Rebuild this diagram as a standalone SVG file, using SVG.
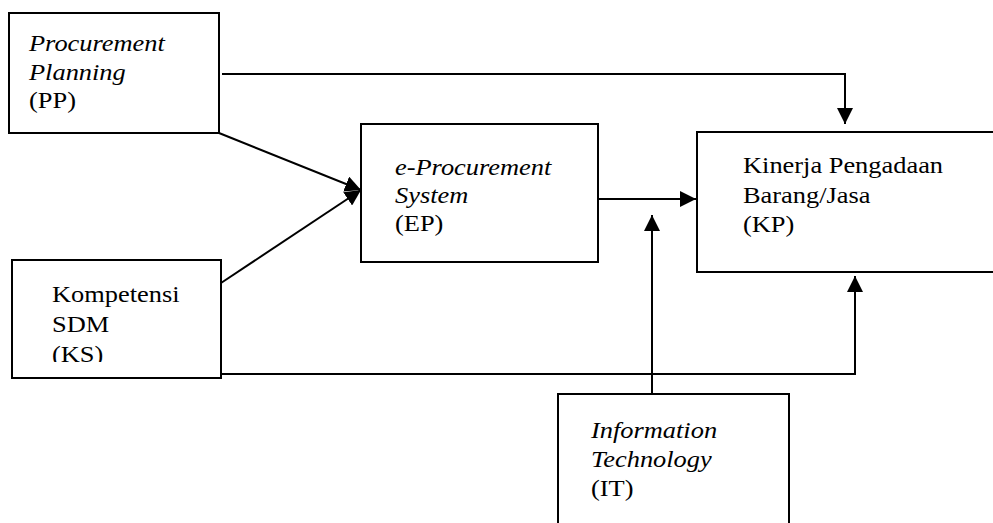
<svg xmlns="http://www.w3.org/2000/svg" width="993" height="523" viewBox="0 0 993 523">
<defs>
<style>
.box{fill:#fff;stroke:#000;stroke-width:2}
.c{fill:none;stroke:#000;stroke-width:2}
</style>
<marker id="ah" viewBox="0 0 16 16" refX="16" refY="8" markerWidth="16" markerHeight="16" markerUnits="userSpaceOnUse" orient="auto">
<path d="M0,0 L16,8 L0,16 z" fill="#000"/>
</marker>
<clipPath id="ksclip"><rect x="12" y="260" width="209" height="102"/></clipPath>
</defs>
<rect width="993" height="523" fill="#fff"/>
<g id="connectors">
<polyline class="c" points="222,74 845,74 845,124" marker-end="url(#ah)"/>
<line class="c" x1="219" y1="133" x2="361" y2="190" marker-end="url(#ah)"/>
<line class="c" x1="221" y1="283" x2="361" y2="190" marker-end="url(#ah)"/>
<line class="c" x1="598" y1="199" x2="696" y2="199" marker-end="url(#ah)"/>
<line class="c" x1="652" y1="394" x2="652" y2="215" marker-end="url(#ah)"/>
<polyline class="c" points="221,374 855,374 855,276" marker-end="url(#ah)"/>
</g>
<g font-family="Liberation Serif, Times New Roman, serif" font-size="24" fill="#000">
<g id="PP">
<rect class="box" x="9" y="13" width="210" height="120"/>
<text transform="translate(29,51) scale(1.1,1)" font-style="italic">Procurement</text>
<text transform="translate(29,80) scale(1.1,1)" font-style="italic">Planning</text>
<text transform="translate(29,108) scale(1.1,1)">(PP)</text>
</g>
<g id="KS">
<rect class="box" x="12" y="260" width="209" height="118"/>
<g clip-path="url(#ksclip)">
<text transform="translate(52,302) scale(1.1,1)">Kompetensi</text>
<text transform="translate(52,332) scale(1.1,1)">SDM</text>
<text transform="translate(52,362) scale(1.1,1)">(KS)</text>
</g>
</g>
<g id="EP">
<rect class="box" x="361" y="124" width="237" height="138"/>
<text transform="translate(395,175) scale(1.1,1)" font-style="italic">e-Procurement</text>
<text transform="translate(395,203) scale(1.1,1)" font-style="italic">System</text>
<text transform="translate(395,231) scale(1.1,1)">(EP)</text>
</g>
<g id="KP">
<rect class="box" x="697" y="132" width="300" height="140"/>
<text transform="translate(743,173) scale(1.1,1)">Kinerja Pengadaan</text>
<text transform="translate(743,203) scale(1.1,1)">Barang/Jasa</text>
<text transform="translate(743,232) scale(1.1,1)">(KP)</text>
</g>
<g id="IT">
<rect class="box" x="558" y="394" width="231" height="135"/>
<text transform="translate(591,438) scale(1.1,1)" font-style="italic">Information</text>
<text transform="translate(591,467) scale(1.1,1)" font-style="italic">Technology</text>
<text transform="translate(591,496) scale(1.1,1)">(IT)</text>
</g>
</g>
</svg>
